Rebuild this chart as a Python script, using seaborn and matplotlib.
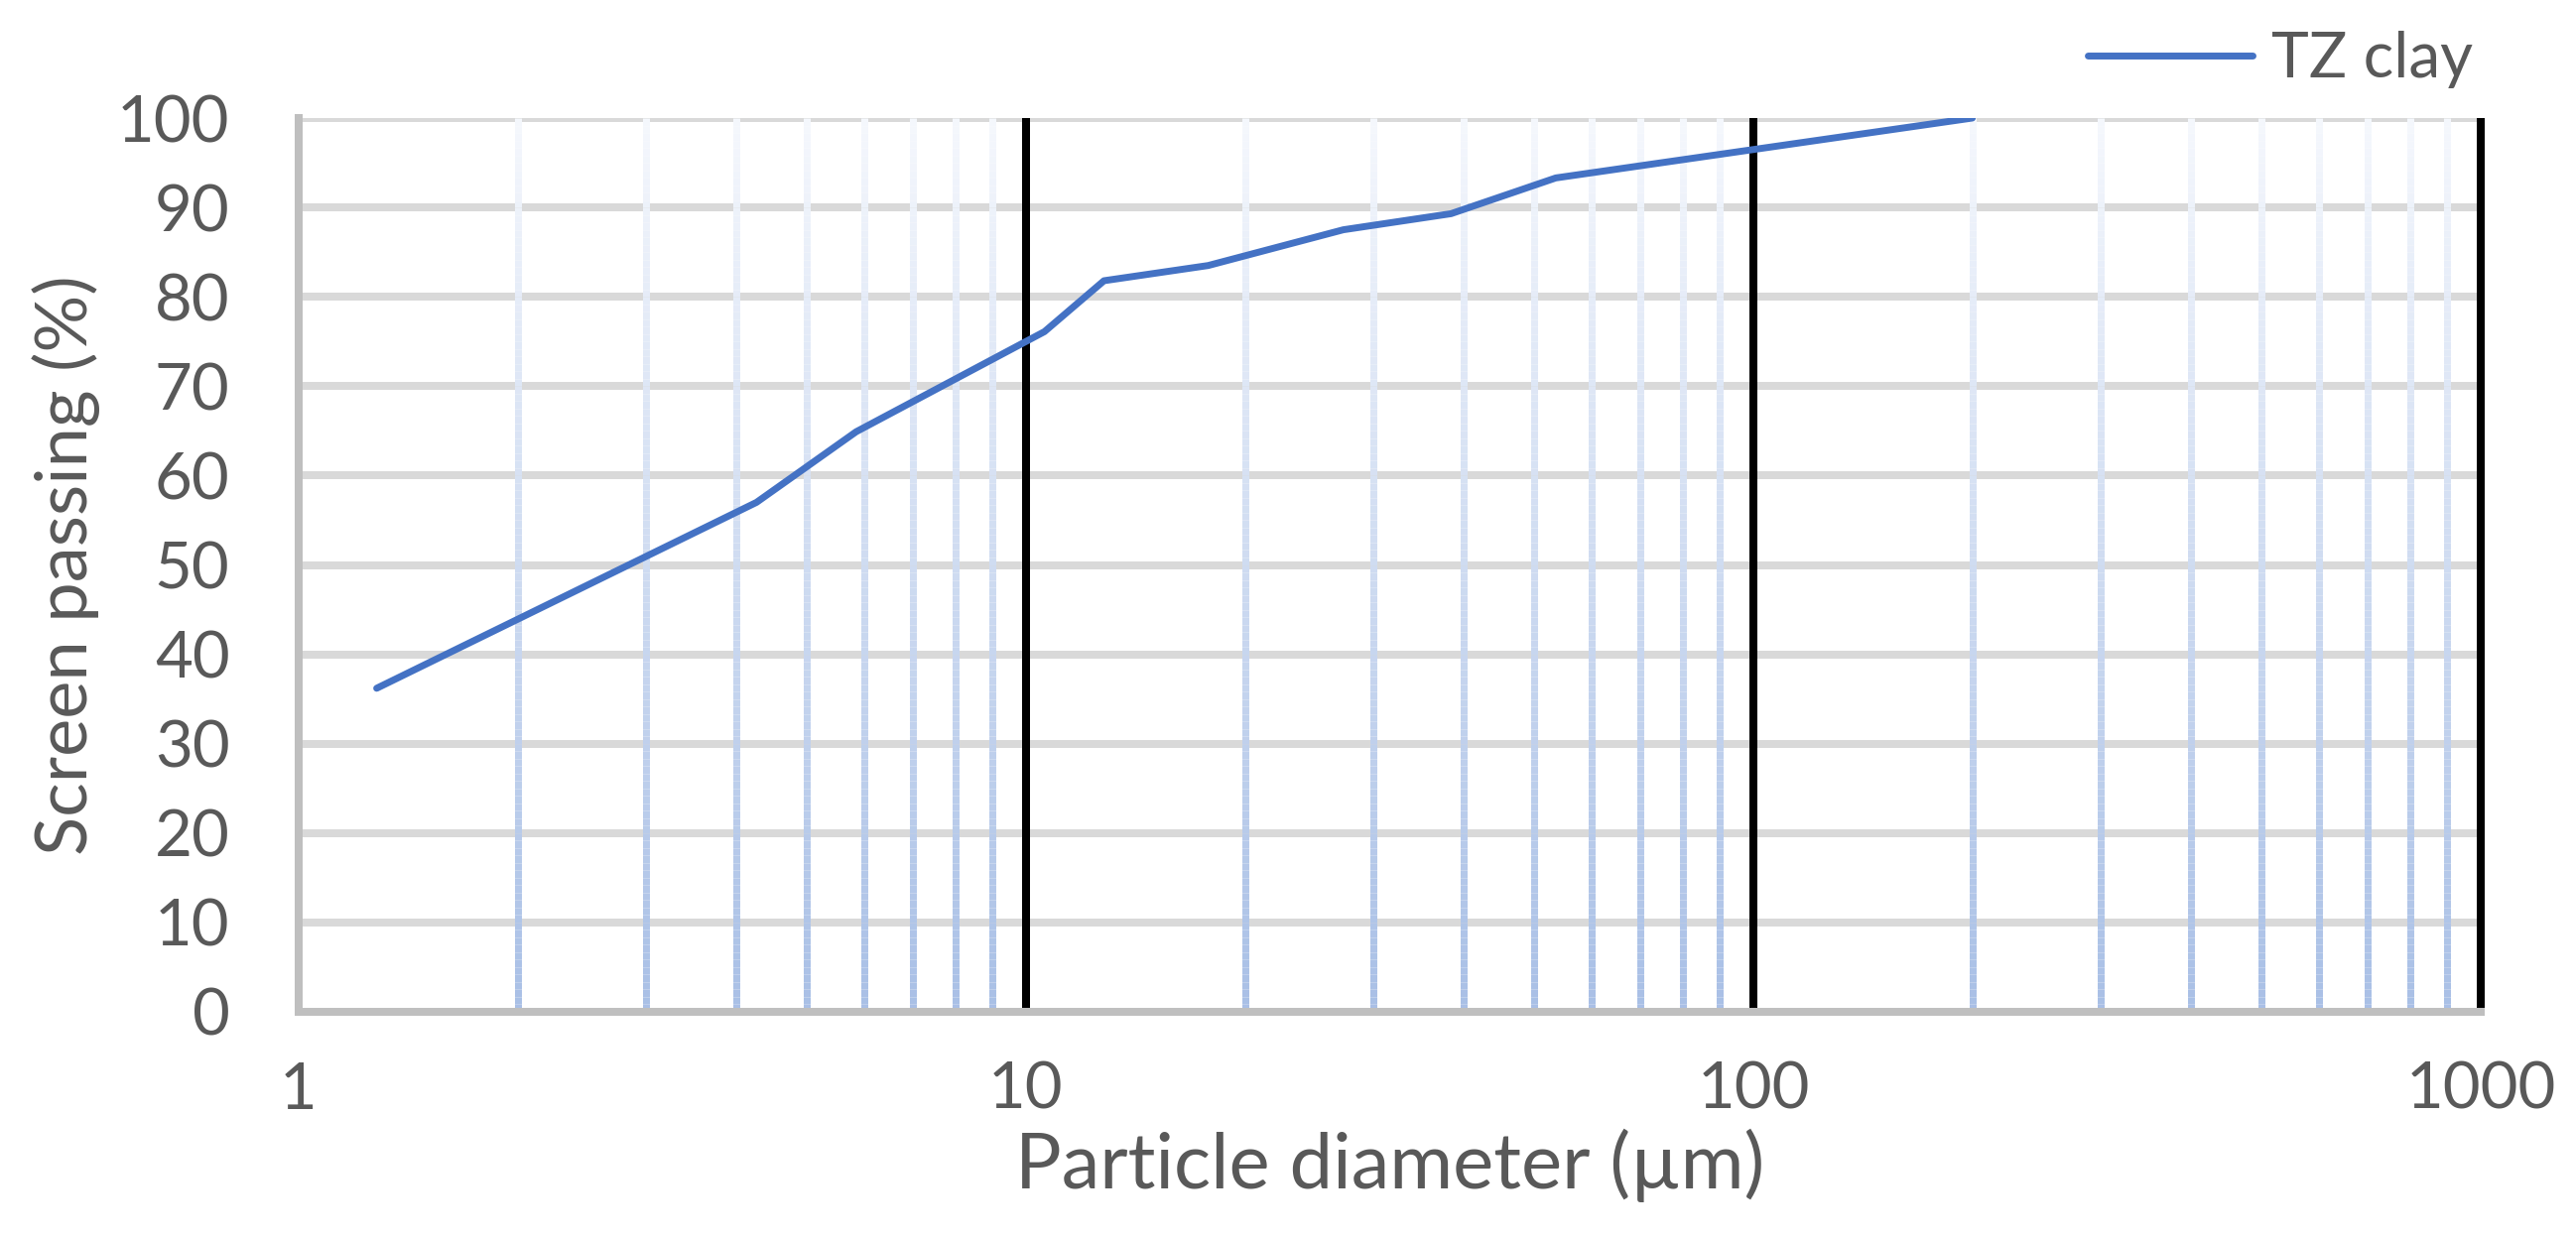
import numpy as np
import pandas as pd
import matplotlib
matplotlib.use("Agg")
import matplotlib.pyplot as plt
from matplotlib.collections import LineCollection
from matplotlib.lines import Line2D
import seaborn as sns

# ---- data ----
diameter_um = [1.28, 4.26, 5.84, 10.6, 12.8, 17.8, 27.3, 38.4, 53.5, 200.0]
passing_pct = [36.2, 57.0, 64.9, 76.1, 81.8, 83.5, 87.5, 89.3, 93.3, 100.0]
series_name = "TZ clay"
x_major = [1, 10, 100, 1000]
x_major_labels = ["1", "10", "100", "1000"]
y_ticks = list(range(0, 101, 10))
minor_x = [m * d for d in (1, 10, 100) for m in range(2, 10)]

df = pd.DataFrame({"d": diameter_um, "p": passing_pct, "s": series_name})

sns.set_theme(style="white")
plt.rcParams["font.family"] = ["Lato", "DejaVu Sans"]

W, H = 2596, 1248
fig = plt.figure(figsize=(W / 100, H / 100), dpi=100)
ax = fig.add_axes([301 / W, 1 - 1020 / H, (2500 - 301) / W, (1020 - 119) / H])

ax.set_xscale("log")
ax.set_xlim(1, 1000)
ax.set_ylim(0, 100)

TXT = "#595959"
lw = 8 * 72 / 100

# horizontal gridlines
for yv in y_ticks:
    ax.axhline(yv, color="#d9d9d9", lw=lw, zorder=1, solid_capstyle="butt")

# gradient vertical minor gridlines
n = 120
ys = np.linspace(0, 100, n + 1)
top_c = np.array([0.96, 0.97, 0.99])
bot_c = np.array([0.66, 0.75, 0.90])
segs, cols = [], []
for xv in minor_x:
    for i in range(n):
        segs.append([(xv, ys[i]), (xv, ys[i + 1])])
        f = (ys[i] + ys[i + 1]) / 200.0
        cols.append(bot_c + (top_c - bot_c) * f)
lc = LineCollection(segs, colors=cols, linewidths=7 * 72 / 100, zorder=2, capstyle="butt")
ax.add_collection(lc)

# black major gridlines
for xv in x_major[1:]:
    ax.axvline(xv, color="black", lw=lw, zorder=3, solid_capstyle="butt", clip_on=False)

# data
sns.lineplot(data=df, x="d", y="p", hue="s", palette=["#4472c4"], ax=ax,
             lw=5, zorder=5, legend=False, sort=False)

# spines
for s in ["top", "right"]:
    ax.spines[s].set_visible(False)
for s in ["left", "bottom"]:
    ax.spines[s].set_color("#bfbfbf")
    ax.spines[s].set_linewidth(lw)
    ax.spines[s].set_zorder(4)

ax.set_xticks(x_major)
ax.set_xticklabels(x_major_labels)
ax.xaxis.set_minor_locator(matplotlib.ticker.NullLocator())
ax.set_yticks(y_ticks)
ax.tick_params(axis="both", length=0, labelsize=47, colors=TXT)
ax.tick_params(axis="x", pad=36)
ax.tick_params(axis="y", pad=50)

ax.set_xlabel("Particle diameter (µm)", fontsize=56, color=TXT, labelpad=6)
ax.set_ylabel("Screen passing (%)", fontsize=52, color=TXT, labelpad=12)

# legend
h = Line2D([], [], color="#4472c4", lw=5)
fig.legend([h], [series_name], loc="center right", bbox_to_anchor=(2492 / W, 1 - 60 / H),
           frameon=False, fontsize=46, labelcolor=TXT, handlelength=2.6, handletextpad=0.3,
           borderaxespad=0, borderpad=0)

fig.savefig("out.png", dpi=100, facecolor="white")
